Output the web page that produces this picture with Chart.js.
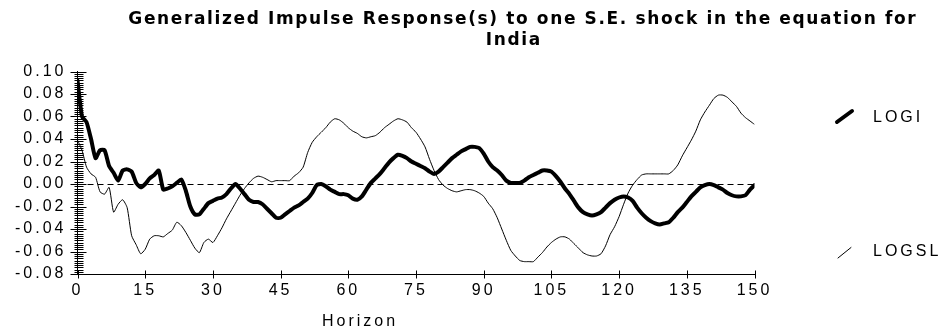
<!DOCTYPE html>
<html><head><meta charset="utf-8">
<script src="https://cdn.jsdelivr.net/npm/chart.js@4"></script>
<style>html,body{margin:0;padding:0;background:#fff}</style>
</head><body>
<canvas id="c" width="951" height="331"></canvas>
<script>
const titleLines = ["Generalized Impulse Response(s) to one S.E. shock in the equation for", "India"];
const xAxisTitle = "Horizon";
const seriesNames = ["LOGI", "LOGSL"];
const horizons = Array.from({length: 151}, (_, i) => i);
const xTickValues = [0, 15, 30, 45, 60, 75, 90, 105, 120, 135, 150];
const yTickValues = [0.10, 0.08, 0.06, 0.04, 0.02, 0.00, -0.02, -0.04, -0.06, -0.08];

const logi = [
 0.092,0.060,0.055,0.040,0.023,0.030,0.030,0.016,0.010,0.003,
 0.012,0.013,0.011,0.001,-0.003,0.000,0.005,0.008,0.012,-0.005,
 -0.004,-0.002,0.001,0.004,-0.006,-0.020,-0.027,-0.027,-0.022,-0.017,
 -0.015,-0.013,-0.012,-0.009,-0.004,0.000,-0.004,-0.009,-0.014,-0.016,
 -0.016,-0.018,-0.022,-0.026,-0.030,-0.030,-0.027,-0.024,-0.021,-0.019,
 -0.016,-0.013,-0.008,-0.001,0.000,-0.002,-0.005,-0.007,-0.009,-0.009,
 -0.010,-0.013,-0.014,-0.011,-0.005,0.001,0.005,0.009,0.014,0.019,
 0.023,0.026,0.025,0.023,0.020,0.018,0.016,0.014,0.011,0.009,
 0.011,0.015,0.019,0.023,0.026,0.029,0.031,0.033,0.033,0.032,
 0.027,0.020,0.015,0.012,0.008,0.003,0.001,0.001,0.001,0.003,
 0.006,0.008,0.010,0.012,0.012,0.011,0.007,0.002,-0.004,-0.009,
 -0.015,-0.021,-0.025,-0.027,-0.028,-0.027,-0.025,-0.021,-0.017,-0.014,
 -0.012,-0.011,-0.012,-0.015,-0.021,-0.026,-0.030,-0.033,-0.035,-0.036,
 -0.035,-0.034,-0.030,-0.025,-0.021,-0.016,-0.011,-0.007,-0.003,-0.001,
 0.000,-0.001,-0.003,-0.005,-0.008,-0.010,-0.011,-0.011,-0.010,-0.005,
 -0.001
];
const logsl = [
 0.039,0.030,0.015,0.009,0.006,-0.007,-0.009,-0.003,-0.025,-0.018,
 -0.014,-0.021,-0.046,-0.054,-0.062,-0.058,-0.049,-0.046,-0.046,-0.047,
 -0.044,-0.041,-0.034,-0.037,-0.043,-0.050,-0.057,-0.061,-0.052,-0.049,
 -0.052,-0.046,-0.039,-0.031,-0.024,-0.017,-0.010,-0.004,0.001,0.005,
 0.007,0.006,0.004,0.002,0.003,0.003,0.003,0.003,0.007,0.010,
 0.015,0.028,0.037,0.042,0.046,0.050,0.055,0.058,0.057,0.054,
 0.050,0.047,0.045,0.042,0.041,0.042,0.043,0.046,0.050,0.053,
 0.056,0.058,0.057,0.055,0.050,0.046,0.040,0.033,0.022,0.012,
 0.004,-0.001,-0.004,-0.006,-0.007,-0.006,-0.005,-0.005,-0.006,-0.008,
 -0.011,-0.017,-0.022,-0.030,-0.040,-0.050,-0.059,-0.064,-0.068,-0.069,
 -0.069,-0.069,-0.065,-0.061,-0.056,-0.052,-0.049,-0.047,-0.047,-0.049,
 -0.053,-0.057,-0.061,-0.063,-0.064,-0.064,-0.062,-0.055,-0.045,-0.038,
 -0.029,-0.018,-0.008,-0.001,0.004,0.008,0.009,0.009,0.009,0.009,
 0.009,0.009,0.012,0.017,0.025,0.032,0.039,0.047,0.057,0.064,
 0.070,0.076,0.079,0.079,0.077,0.073,0.069,0.063,0.059,0.056,
 0.053
];
const zeroLine = [0, 0];

const FONT = '"Liberation Sans", Arial, sans-serif';
const TITLE_FONT = 'bold 17px "DejaVu Sans", sans-serif';
const SPACING = '3px';

const decor = {
  id: 'decor',
  beforeDraw(chart) { chart.ctx.letterSpacing = SPACING; },
  beforeDatasetsDraw(chart) {
    const ctx = chart.ctx;
    const xs = chart.scales.x, ys = chart.scales.y;
    ctx.save();
    ctx.strokeStyle = '#000';
    ctx.lineWidth = 1;
    ctx.setLineDash([6, 4]);
    const zy = Math.round(ys.getPixelForValue(zeroLine[0])) + 0.5;
    ctx.beginPath();
    ctx.moveTo(xs.getPixelForValue(horizons[0]), zy);
    ctx.lineTo(xs.getPixelForValue(horizons[horizons.length - 1]), zy);
    ctx.stroke();
    ctx.restore();
  },
  afterDraw(chart) {
    const ctx = chart.ctx;
    const xs = chart.scales.x, ys = chart.scales.y;
    ctx.save();
    ctx.strokeStyle = '#000';
    ctx.lineWidth = 1;
    const ax = Math.round(xs.left) + 0.5;
    ctx.beginPath();
    for (let k = 0; k <= 90; k++) {
      const v = -0.08 + k * 0.002;
      const py = Math.round(ys.getPixelForValue(v)) + 0.5;
      const major = k % 10 === 0;
      ctx.moveTo(ax - (major ? 8 : 4), py);
      ctx.lineTo(ax + (major ? 8 : 5), py);
    }
    const ay = Math.round(ys.bottom) + 0.5;
    xTickValues.forEach(v => {
      const px = Math.round(xs.getPixelForValue(v)) + 0.5;
      ctx.moveTo(px, ay - 4);
      ctx.lineTo(px, ay + 4);
    });
    ctx.stroke();

    // title
    ctx.fillStyle = '#000';
    ctx.textAlign = 'center';
    ctx.textBaseline = 'alphabetic';
    ctx.font = TITLE_FONT;
    ctx.letterSpacing = '0px';
    const w0 = ctx.measureText(titleLines[0]).width;
    const ls = Math.max(0, (789 - w0) / titleLines[0].length);
    ctx.letterSpacing = ls + 'px';
    ctx.fillText(titleLines[0], 522 + ls / 2, 24);
    ctx.fillText(titleLines[1], 513 + ls / 2, 45);

    // axis title
    ctx.font = '16px ' + FONT;
    ctx.letterSpacing = SPACING;
    ctx.fillText(xAxisTitle, 358.5 + 1.5, 326);

    // legend
    ctx.textAlign = 'left';
    ctx.textBaseline = 'middle';
    ctx.fillText(seriesNames[0], 873, 117.5);
    ctx.fillText(seriesNames[1], 873, 252);
    ctx.lineCap = 'round';
    ctx.lineWidth = 4;
    ctx.beginPath(); ctx.moveTo(837, 122); ctx.lineTo(852, 111); ctx.stroke();
    ctx.lineWidth = 1;
    ctx.beginPath(); ctx.moveTo(838, 258); ctx.lineTo(851, 247.5); ctx.stroke();
    ctx.restore();
  }
};

new Chart(document.getElementById('c'), {
  type: 'line',
  data: {
    datasets: [
      { label: seriesNames[0], data: horizons.map((h, i) => ({x: h, y: logi[i]})),
        borderColor: '#000', borderWidth: 4, pointRadius: 0, borderJoinStyle: 'round', borderCapStyle: 'round', tension: 0.2 },
      { label: seriesNames[1], data: horizons.map((h, i) => ({x: h, y: logsl[i]})),
        borderColor: '#000', borderWidth: 1, pointRadius: 0, tension: 0.2 }
    ]
  },
  options: {
    responsive: false, animation: false, devicePixelRatio: 1,
    layout: { padding: { left: 0, top: 71.5, right: 196.5, bottom: 27 } },
    plugins: { legend: { display: false }, title: { display: false }, tooltip: { enabled: false } },
    scales: {
      x: {
        type: 'linear', min: 0, max: 150,
        afterBuildTicks: s => { s.ticks = xTickValues.map(v => ({value: v})); },
        afterFit: s => { s.height = 30; s.paddingLeft = 0; s.paddingRight = 0; s.paddingTop = 0; s.paddingBottom = 0; },
        grid: { display: false, drawTicks: false },
        border: { display: true, color: '#000', width: 1 },
        ticks: { color: '#000', font: { family: FONT, size: 16 }, padding: 7, maxRotation: 0, autoSkip: false }
      },
      y: {
        min: -0.08, max: 0.10,
        afterBuildTicks: s => { s.ticks = yTickValues.map(v => ({value: v})); },
        afterFit: s => { s.width = 77.5; s.paddingLeft = 0; s.paddingRight = 0; s.paddingTop = 0; s.paddingBottom = 0; },
        grid: { display: false, drawTicks: false },
        border: { display: true, color: '#000', width: 1 },
        ticks: { color: '#000', font: { family: FONT, size: 16 }, padding: 11, autoSkip: false,
                 callback: v => v.toFixed(2) }
      }
    }
  },
  plugins: [decor]
});
</script>
</body></html>
